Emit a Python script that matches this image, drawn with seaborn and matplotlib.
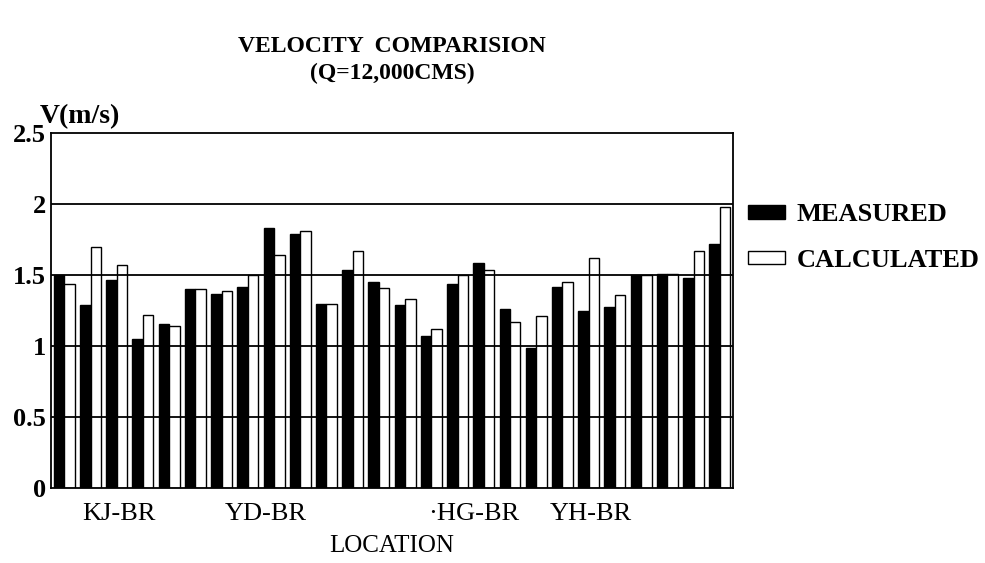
import matplotlib
matplotlib.use("Agg")
import matplotlib.pyplot as plt
import seaborn as sns
import pandas as pd
from matplotlib.patches import Patch

# ---- data ----
pair_ids = list(range(1, 27))
measured = [1.50, 1.29, 1.47, 1.05, 1.16, 1.40, 1.37, 1.42, 1.83, 1.79, 1.30, 1.54, 1.45,
            1.29, 1.07, 1.44, 1.59, 1.26, 0.99, 1.42, 1.25, 1.28, 1.50, 1.51, 1.48, 1.72]
calculated = [1.44, 1.70, 1.57, 1.22, 1.14, 1.40, 1.39, 1.50, 1.64, 1.81, 1.30, 1.67, 1.41,
              1.33, 1.12, 1.50, 1.54, 1.17, 1.21, 1.45, 1.62, 1.36, 1.50, 1.51, 1.67, 1.98]
series_names = ["MEASURED", "CALCULATED"]
location_labels = ["KJ-BR", "YD-BR", "\u00b7HG-BR", "YH-BR"]
location_pos = [2.1, 7.7, 15.6, 20.1]
y_ticks = [0, 0.5, 1, 1.5, 2, 2.5]
y_ticklabels = ["0", "0.5", "1", "1.5", "2", "2.5"]

df = pd.DataFrame({
    "pair": pair_ids * 2,
    "V": measured + calculated,
    "series": [series_names[0]] * len(measured) + [series_names[1]] * len(calculated),
})

sns.set_theme(style="white")
plt.rcParams["font.family"] = ["Liberation Serif", "DejaVu Serif"]
for k in ["text.color", "axes.labelcolor", "xtick.color", "ytick.color", "axes.edgecolor"]:
    plt.rcParams[k] = "black"

fig = plt.figure(figsize=(9.85, 5.63), dpi=100)
ax = fig.add_axes([0.052, 0.133, 0.692, 0.630])

sns.barplot(data=df, x="pair", y="V", hue="series", hue_order=series_names,
            palette=["black", "white"], edgecolor="black", linewidth=1.0,
            width=0.8, ax=ax, legend=False, errorbar=None)

ax.set_ylim(0, 2.5)
ax.set_xlim(-0.5, len(pair_ids) - 0.5)
for yv in y_ticks[1:-1]:
    ax.axhline(yv, color="black", lw=1.3, zorder=5)

ax.set_yticks(y_ticks)
ax.set_yticklabels(y_ticklabels, fontsize=19, fontweight="bold")
ax.set_xticks(location_pos)
ax.set_xticklabels(location_labels, fontsize=19)
ax.tick_params(axis="y", length=0, pad=4)
ax.tick_params(axis="x", length=0, pad=11)
ax.set_xlabel("LOCATION", fontsize=18, labelpad=7)
ax.set_ylabel("")
for s in ax.spines.values():
    s.set_visible(True)
    s.set_color("black")
    s.set_linewidth(1.3)

fig.text(0.040, 0.770, "V(m/s)", fontsize=20, fontweight="bold", ha="left", va="bottom")
fig.text(0.398, 0.918, "VELOCITY  COMPARISION", fontsize=17, fontweight="bold",
         ha="center", va="center")
fig.text(0.398, 0.870, "(Q=12,000CMS)", fontsize=17, fontweight="bold",
         ha="center", va="center")

handles = [Patch(facecolor="black", edgecolor="black", label=series_names[0]),
           Patch(facecolor="white", edgecolor="black", label=series_names[1])]
fig.legend(handles=handles, loc="center left", bbox_to_anchor=(0.735, 0.578),
           frameon=False, handlelength=1.4, handleheight=0.4,
           handletextpad=0.45, labelspacing=0.85, prop={"weight": "bold", "size": 19})

fig.savefig("out.png", dpi=100, facecolor="white")
